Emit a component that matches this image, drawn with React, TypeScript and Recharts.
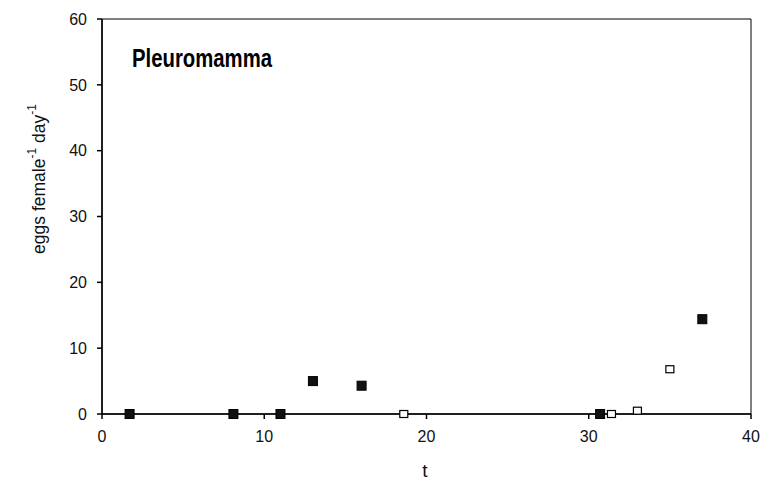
import React from "react";
import {
  ScatterChart,
  Scatter,
  XAxis,
  YAxis,
  ReferenceArea,
  Label,
} from "recharts";

// filled squares
const filledT = [1.7, 8.1, 11, 13, 16, 30.7, 37];
const filledEggs = [0, 0, 0, 5, 4.3, 0, 14.4];

// open squares
const openT = [18.6, 31.4, 33, 35];
const openEggs = [0, 0, 0.5, 6.8];

const xTicks = [0, 10, 20, 30, 40];
const yTicks = [0, 10, 20, 30, 40, 50, 60];

const filledData = filledT.map((t, i) => ({ t, eggs: filledEggs[i] }));
const openData = openT.map((t, i) => ({ t, eggs: openEggs[i] }));

const FONT = "'Liberation Sans', Arial, sans-serif";

const FilledSquare = (props: any) => {
  const { cx, cy } = props;
  return <rect x={cx - 4.5} y={cy - 4.5} width={9} height={9} fill="#111" stroke="#000" />;
};

const OpenSquare = (props: any) => {
  const { cx, cy } = props;
  return (
    <rect x={cx - 4} y={cy - 3.5} width={8} height={7} fill="#fff" stroke="#000" strokeWidth={1.2} />
  );
};

const YLabel = () => (
  <text
    transform="translate(45, 179) rotate(-90)"
    textAnchor="middle"
    fontFamily={FONT}
    fontSize={17.5}
    fill="#111"
  >
    eggs female
    <tspan dy={-9} fontSize={12}>-1</tspan>
    <tspan dy={9}>{"  day"}</tspan>
    <tspan dy={-9} fontSize={12}>-1</tspan>
  </text>
);

const Title = () => (
  <text
    x={132}
    y={67}
    fontFamily={FONT}
    fontSize={26}
    fontWeight="bold"
    textLength={140}
    lengthAdjust="spacingAndGlyphs"
    fill="#000"
  >
    Pleuromamma
  </text>
);

const XTitle = () => (
  <text x={425} y={477} textAnchor="middle" fontFamily={FONT} fontSize={19} fill="#111">
    t
  </text>
);

export default function App() {
  return (
    <div style={{ position: "absolute", left: 0, top: 0, background: "#fff" }}>
      <ScatterChart
        width={761}
        height={484}
        margin={{ top: 19, right: 10, bottom: 40, left: 42 }}
      >
        <XAxis
          type="number"
          dataKey="t"
          domain={[0, 40]}
          ticks={xTicks}
          height={30}
          stroke="#000"
          strokeWidth={1.5}
          tickSize={5}
          tick={{ fill: "#111", fontSize: 16, fontFamily: FONT }}
          tickMargin={12}
        >
          <Label content={<XTitle />} />
        </XAxis>
        <YAxis
          type="number"
          dataKey="eggs"
          domain={[0, 60]}
          ticks={yTicks}
          width={60}
          stroke="#000"
          strokeWidth={1.5}
          tickSize={5}
          tickMargin={10}
          tick={{ fill: "#111", fontSize: 16, fontFamily: FONT }}
        >
          <Label content={<YLabel />} />
          <Label content={<Title />} />
        </YAxis>
        <ReferenceArea
          x1={0}
          x2={40}
          y1={0}
          y2={60}
          fill="none"
          stroke="#000"
          strokeWidth={1}
          fillOpacity={0}
        />
        <Scatter data={filledData} shape={<FilledSquare />} isAnimationActive={false} />
        <Scatter data={openData} shape={<OpenSquare />} isAnimationActive={false} />
      </ScatterChart>
    </div>
  );
}
